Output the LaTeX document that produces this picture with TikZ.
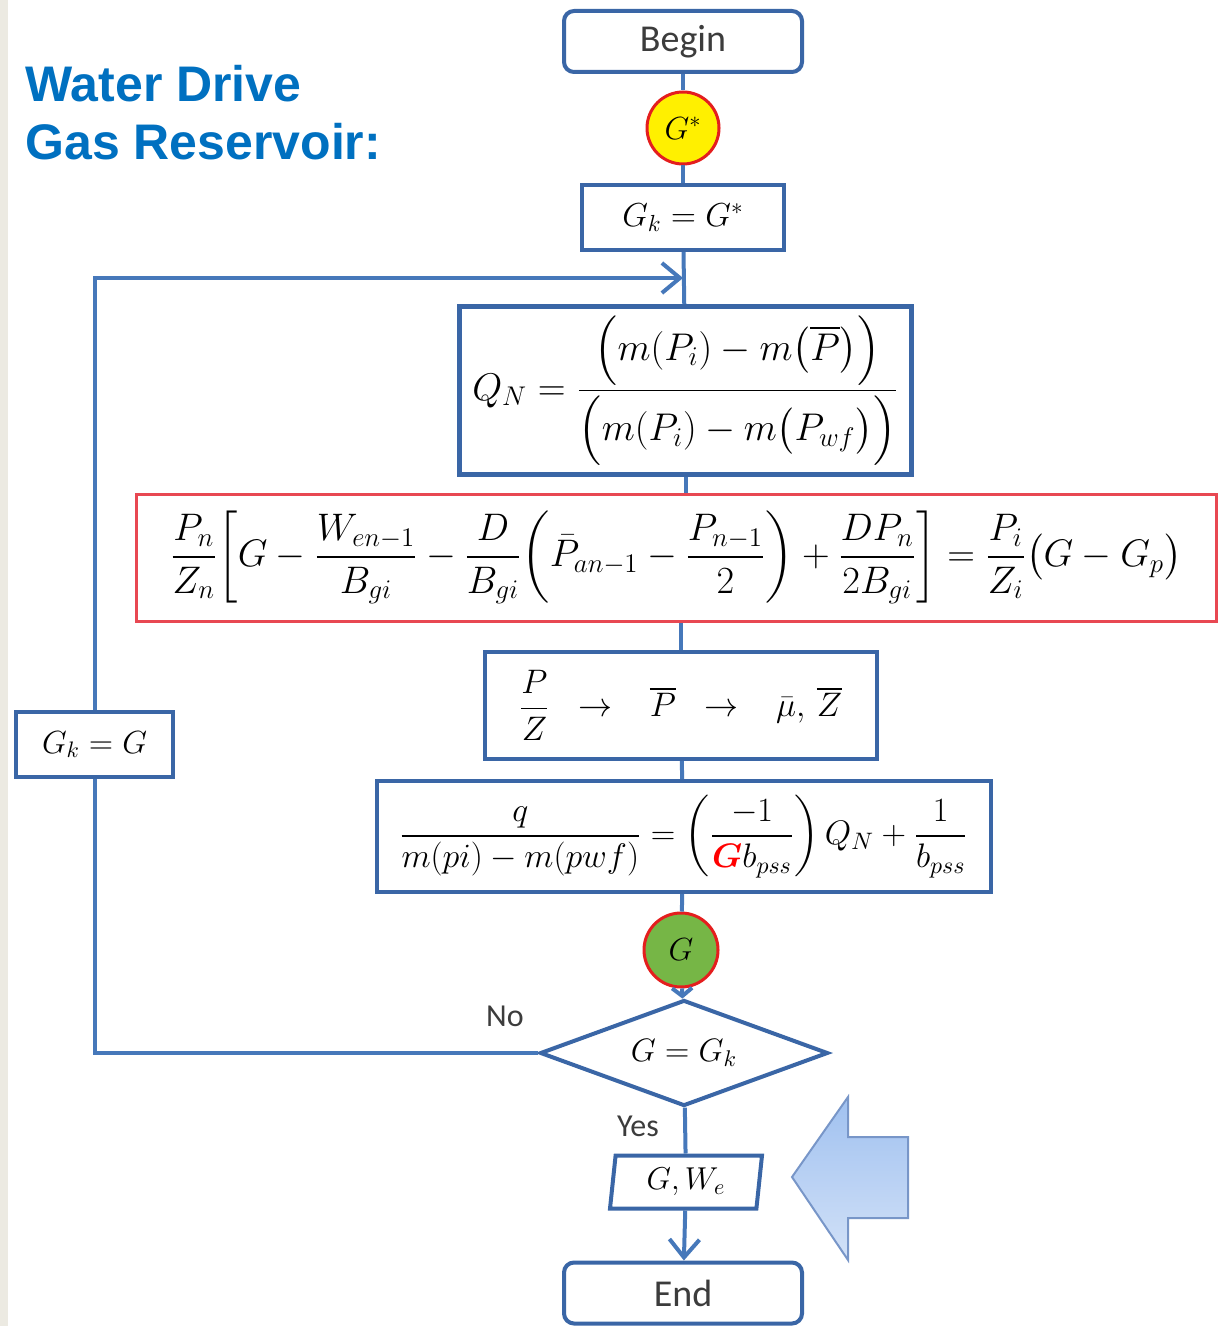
\RequirePackage{fix-cm}
\documentclass[tikz,border=0pt]{standalone}
\usepackage{amsmath,amssymb}
\usepackage{fontspec}
\setmainfont{Carlito}
\newfontfamily\titlefont{Liberation Sans}
\usepackage{tikz}
\usetikzlibrary{shapes.geometric,positioning,arrows.meta}
\usepackage{xcolor}
\definecolor{boxblue}{RGB}{58,102,166}
\definecolor{lineblue}{RGB}{70,120,186}
\definecolor{titleblue}{RGB}{0,112,192}
\definecolor{textgrey}{RGB}{60,60,60}
\definecolor{framered}{RGB}{232,72,82}
\definecolor{ringred}{RGB}{228,30,30}
\definecolor{gyellow}{RGB}{255,240,0}
\definecolor{ggreen}{RGB}{118,182,70}
\definecolor{stripgrey}{RGB}{236,234,226}
\definecolor{arrowtop}{RGB}{160,193,240}
\definecolor{arrowbot}{RGB}{210,225,247}
\definecolor{arrowedge}{RGB}{120,150,200}

\begin{document}
\begin{tikzpicture}[
x=0.5pt,
y=-0.5pt,
>={Straight Barb[length=9pt,width=15pt]},
box/.style={
draw=boxblue,
line width=2pt,
fill=white,
inner sep=2pt,
font=\fontsize{16.6}{20}\selectfont
},
term/.style={
box,
rounded corners=5pt,
minimum width=119pt,
minimum height=30.5pt,
text=textgrey,
font=\fontsize{19}{23}\selectfont
},
dot/.style={
circle,
draw=ringred,
line width=1.5pt,
minimum size=36pt,
inner sep=0pt,
font=\fontsize{16}{19}\selectfont
},
conn/.style={
draw=lineblue,
line width=2pt
},
lbl/.style={
text=textgrey,
font=\fontsize{16}{19}\selectfont
},
heading/.style={
anchor=base west,
inner sep=0pt,
text=titleblue,
font=\titlefont\bfseries\fontsize{25}{29}\selectfont
}
]

\useasboundingbox (0,0) rectangle (1219,1326);
\fill[stripgrey] (0,0) rectangle (8,1326);

\node[heading] (title1) at (25,102) {Water Drive};
\node[heading] (title2) at (25,160) {Gas Reservoir:};

\node[term] (begin) at (683,41.5) {Begin};
\node[dot,fill=gyellow] (gstar) at (683,128) {$G^{*}$};
\node[box,minimum width=101pt,minimum height=32.5pt] (gk) at (683,217.5) {$G_k = G^{*}$};
\node[box,line width=2.5pt,minimum width=226pt,minimum height=84pt,font=\fontsize{19.3}{23}\selectfont] (qn) at (685.5,390.5)
{$\displaystyle Q_N = \frac{\Bigl(m(P_i) - m\bigl(\overline{P}\bigr)\Bigr)}{\Bigl(m(P_i) - m\bigl(P_{wf}\bigr)\Bigr)}$};
\node[draw=framered,line width=1.5pt,fill=white,minimum width=540pt,minimum height=63.5pt,inner sep=1pt,font=\fontsize{19.2}{23}\selectfont] (pnz) at (676,557.5)
{$\displaystyle \frac{P_n}{Z_n}\biggl[G - \frac{W_{en-1}}{B_{gi}} - \frac{D}{B_{gi}}\biggl(\bar{P}_{an-1} - \frac{P_{n-1}}{2}\biggr) + \frac{DP_n}{2B_{gi}}\biggr] = \frac{P_i}{Z_i}\bigl(G - G_p\bigr)$};
\node[box,minimum width=196pt,minimum height=53.5pt,font=\fontsize{17}{20}\selectfont] (pz) at (680.5,705.5)
{$\displaystyle \frac{P}{Z} \;\;\to\;\;\; \overline{P} \;\;\to\;\;\; \bar{\mu},\,\overline{Z}$};
\node[box,minimum width=307pt,minimum height=55.5pt,font=\fontsize{17}{21}\selectfont] (qrate) at (683.5,836.5)
{$\displaystyle \frac{q}{m(pi) - m(pwf)} = \left(\frac{-1}{\textcolor{red}{\boldsymbol{G}}b_{pss}}\right)Q_N + \frac{1}{b_{pss}}$};
\node[dot,fill=ggreen,minimum size=37pt] (gnew) at (681,950) {$G$};
\node[diamond,aspect=2.7,draw=boxblue,line width=2pt,fill=white,minimum width=144pt,minimum height=53pt,inner sep=0pt,font=\fontsize{16.2}{20}\selectfont] (check) at (684,1053) {$G = G_k$};
\node[trapezium,trapezium left angle=80,trapezium right angle=100,trapezium stretches body,draw=boxblue,line width=2pt,fill=white,minimum width=76pt,minimum height=26.5pt,inner sep=1pt,font=\fontsize{15.8}{19}\selectfont] (result) at (686,1182) {$G,W_e$};
\node[term] (end) at (683,1293) {End};
\node[box,minimum width=78.5pt,minimum height=32.5pt,font=\fontsize{16}{19}\selectfont] (update) at (94.5,744.5) {$G_k = G$};
\coordinate (join) at (683,278);

\node[lbl] (no) at (505,1016) {No};
\node[lbl] (yes) at (638,1126) {Yes};

\path[conn]
(begin) edge (gstar)
(gstar) edge (gk)
(gk) edge (qn)
(qn.south) edge (qn.south |- pnz.north)
(pnz.south -| pz.north) edge (pz.north)
(pz) edge (qrate)
(qrate) edge (gnew)
(check) edge (result);

\draw[conn,-{Straight Barb[length=4pt,width=10pt]}] (gnew) -- (check);
\draw[conn,->] (result) -- (end);
\draw[conn] (check.west) -| (update.south);
\draw[conn,->] (update.north) |- (join);

\filldraw[draw=arrowedge,line width=1pt,top color=arrowtop,bottom color=arrowbot]
(792,1177) -- (848,1097) -- (848,1137) -- (908,1137) -- (908,1218) -- (848,1218) -- (848,1260) -- cycle;

\end{tikzpicture}
\end{document}
